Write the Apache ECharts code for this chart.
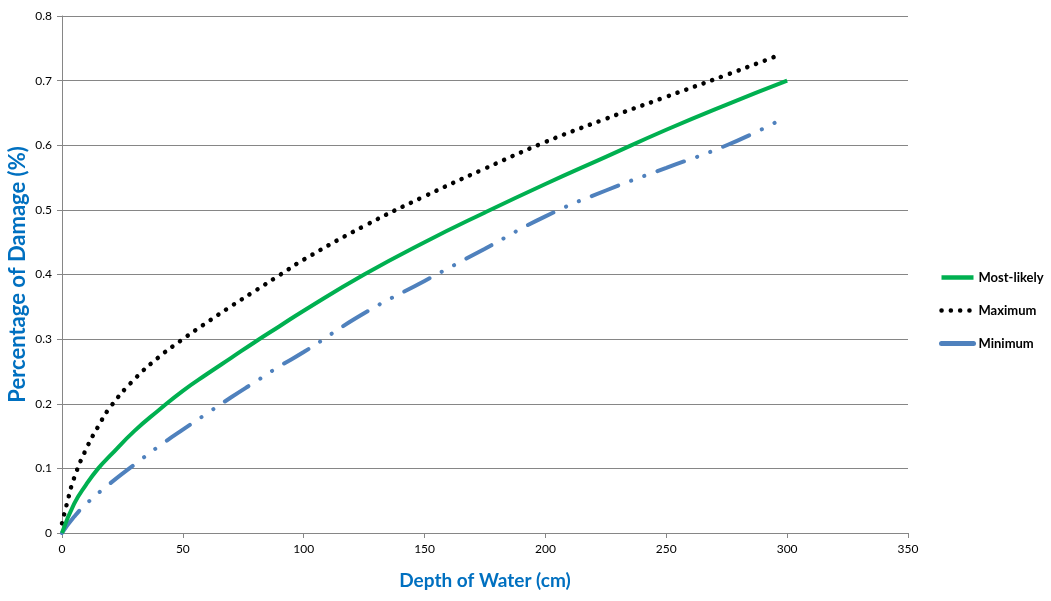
<!DOCTYPE html>
<html>
<head>
<meta charset="utf-8">
<script src="https://cdn.jsdelivr.net/npm/echarts@6/dist/echarts.min.js"></script>
<style>html,body{margin:0;padding:0;background:#fff}#c{width:1051px;height:601px}</style>
</head>
<body>
<div id="c"></div>
<script>
// Depth of water (cm) and damage values
const mostLikelyX = [0, 5, 10, 15, 20, 30, 40, 50, 60, 70, 80, 90, 100, 125, 150, 175, 200, 225, 250, 275, 300];
const mostLikelyY = [0, 0.045, 0.075, 0.1, 0.12, 0.158, 0.19, 0.22, 0.246, 0.271, 0.296, 0.32, 0.344, 0.40, 0.45, 0.496, 0.54, 0.582, 0.624, 0.663, 0.70];

const maximumX = [0, 2, 5, 10, 15, 20, 30, 40, 50, 60, 70, 80, 90, 100, 125, 150, 175, 200, 225, 250, 275, 297];
const maximumY = [0.015, 0.045, 0.085, 0.13, 0.165, 0.195, 0.238, 0.272, 0.30, 0.326, 0.351, 0.375, 0.399, 0.423, 0.475, 0.521, 0.564, 0.605, 0.641, 0.675, 0.709, 0.74];

const minimumX = [0, 5, 10, 20, 30, 40, 50, 60, 70, 80, 90, 100, 125, 150, 175, 200, 225, 250, 275, 295];
const minimumY = [0, 0.025, 0.045, 0.077, 0.106, 0.134, 0.16, 0.185, 0.21, 0.234, 0.258, 0.28, 0.34, 0.39, 0.44, 0.49, 0.53, 0.565, 0.6, 0.635];

const seriesNames = ['Most-likely', 'Maximum', 'Minimum'];
const xTitle = 'Depth of Water (cm)';
const yTitle = 'Percentage of Damage (%)';

function pairs(xs, ys) { return xs.map((x, i) => [x, ys[i]]); }

const font = 'Lato, "Open Sans", sans-serif';
const chart = echarts.init(document.getElementById('c'), null, {renderer: 'canvas'});
chart.setOption({
  animation: false,
  backgroundColor: '#fff',
  grid: {left: 62, right: 143, top: 16, bottom: 68, containLabel: false, outerBoundsMode: 'none'},
  legend: {
    orient: 'vertical', left: 934, top: 266, itemGap: 20, itemWidth: 32, itemHeight: 14,
    itemStyle: {color: 'rgba(0,0,0,0)', borderWidth: 0, opacity: 0},
    lineStyle: {width: 4.5},
    textStyle: {fontFamily: font, fontSize: 13, fontWeight: 'bold', color: '#000'},
    data: [
      {name: seriesNames[0]},
      {name: seriesNames[1]},
      {name: seriesNames[2], lineStyle: {type: 'solid', width: 5}}
    ]
  },
  xAxis: {
    type: 'value', min: 0, max: 350, interval: 50,
    name: xTitle, nameLocation: 'middle', nameGap: 38,
    nameTextStyle: {fontFamily: font, fontSize: 19, fontWeight: 'bold', color: '#0070C0'},
    axisLine: {show: true, lineStyle: {color: '#868686', width: 1}},
    axisTick: {show: true, length: 5, lineStyle: {color: '#868686'}},
    axisLabel: {fontFamily: font, fontSize: 12, color: '#000', margin: 10},
    splitLine: {show: false}
  },
  yAxis: {
    type: 'value', min: 0, max: 0.8, interval: 0.1,
    name: yTitle, nameLocation: 'middle', nameGap: 33, nameRotate: 90, nameMoveOverlap: false,
    nameTextStyle: {fontFamily: font, fontSize: 22, fontWeight: 'bold', color: '#0070C0'},
    axisLine: {show: true, lineStyle: {color: '#868686', width: 1}},
    axisTick: {show: true, length: 5, lineStyle: {color: '#868686'}},
    axisLabel: {fontFamily: font, fontSize: 12, color: '#000', margin: 10, formatter: v => (Math.round(v * 10) / 10).toString()},
    splitLine: {show: true, lineStyle: {color: '#868686', width: 1}}
  },
  series: [
    {
      name: seriesNames[0], type: 'line', smooth: 0.5, showSymbol: false, symbol: 'none',
      data: pairs(mostLikelyX, mostLikelyY), z: 3,
      itemStyle: {color: '#00B050'},
      lineStyle: {color: '#00B050', width: 4}
    },
    {
      name: seriesNames[1], type: 'line', smooth: 0.5, showSymbol: false, symbol: 'none',
      data: pairs(maximumX, maximumY), z: 2,
      itemStyle: {color: '#000'},
      lineStyle: {color: '#000', width: 4.5, type: [0.1, 9.2], cap: 'round'}
    },
    {
      name: seriesNames[2], type: 'line', smooth: 0.5, showSymbol: false, symbol: 'none',
      data: pairs(minimumX, minimumY), z: 2,
      itemStyle: {color: '#4F81BD'},
      lineStyle: {color: '#4F81BD', width: 4, type: [28, 14, 0.1, 14, 0.1, 14], cap: 'round'}
    }
  ]
});
</script>
</body>
</html>
